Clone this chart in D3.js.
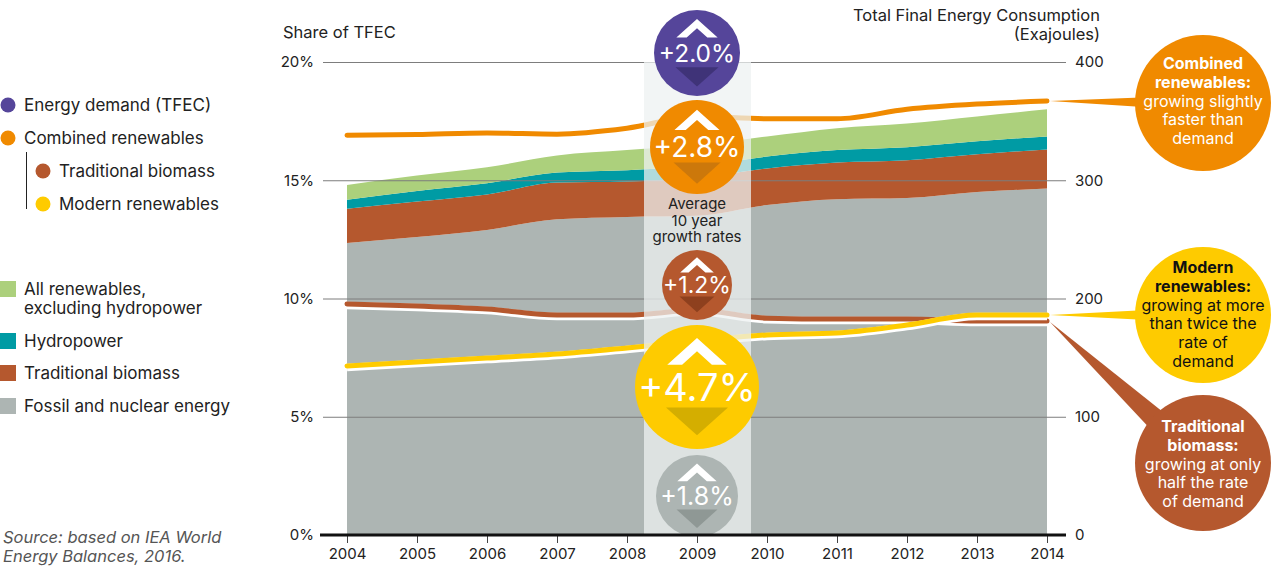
<!DOCTYPE html>
<html>
<head>
<meta charset="utf-8">
<script src="https://cdn.jsdelivr.net/npm/d3@7"></script>
<style>
body { margin: 0; background: #fff; }
text { font-family: Inter, Roboto, "Noto Sans", sans-serif; fill: #222; }
</style>
</head>
<body>
<div id="main"></div>
<script>

//=============== DATA ===================
var years = [2004, 2005, 2006, 2007, 2008, 2009, 2010, 2011, 2012, 2013, 2014];

// stacked areas, exajoules (right axis)
var fossilEJ  = [247, 252, 258, 267, 269, 270, 279, 284, 285, 290, 293];
var biomassEJ = [29, 30, 30, 31, 30, 32, 31, 31, 32, 32, 33];
var hydroEJ   = [7.5, 9, 9.5, 8.5, 9.5, 10, 10, 10.5, 11, 11, 11];
var otherEJ   = [12.5, 13, 13.5, 14.5, 17, 17.5, 17, 18.5, 20, 21, 23];

// shares of TFEC, % (left axis)
var combinedShare = [16.9, 16.93, 17.0, 16.95, 17.2, 17.7, 17.6, 17.6, 18.0, 18.22, 18.35];
var biomassShare  = [9.77, 9.68, 9.56, 9.3, 9.3, 9.5, 9.17, 9.13, 9.13, 9.05, 9.05];
var modernShare   = [7.15, 7.32, 7.48, 7.65, 7.91, 8.2, 8.46, 8.54, 8.88, 9.3, 9.3];

// average 10 year growth rates
var growthNames = ["demand", "combined", "biomass", "modern", "fossil"];
var growthRates = [2.0, 2.8, 1.2, 4.7, 1.8];

var shareTicks = [0, 5, 10, 15, 20];
var ejTicks = [0, 100, 200, 300, 400];

var dotLegend = ["Energy demand (TFEC)", "Combined renewables", "Traditional biomass", "Modern renewables"];
var boxLegend = [["All renewables,", "excluding hydropower"], ["Hydropower"], ["Traditional biomass"], ["Fossil and nuclear energy"]];

var notes = [
  {bold: ["Combined", "renewables:"], rest: ["growing slightly", "faster than", "demand"]},
  {bold: ["Modern", "renewables:"], rest: ["growing at more", "than twice the", "rate of", "demand"]},
  {bold: ["Traditional", "biomass:"], rest: ["growing at only", "half the rate", "of demand"]}
];

//=============== STYLE / LAYOUT ===================
var col = {
  purple: "#55459a", orange: "#f08a00", brown: "#b5582e", yellow: "#fecb00",
  gray: "#adb5b3", green: "#acd07c", teal: "#009ba4"
};
var dark = {
  demand: "#3f3378", combined: "#cc780b", biomass: "#8e401e", modern: "#d4ae00", fossil: "#8f9895"
};
var fill = {
  demand: col.purple, combined: col.orange, biomass: col.brown, modern: col.yellow, fossil: col.gray
};
var bubble = {   // cy, r, font size
  demand:   [53, 43, 24.5],
  combined: [147, 47, 28],
  biomass:  [285, 35, 23],
  modern:   [387, 62, 38],
  fossil:   [496, 41, 25]
};

var W = 1283, H = 566;
var x = d3.scaleLinear().domain([2004, 2014]).range([347, 1047]);
var yShare = d3.scaleLinear().domain([0, 20]).range([535, 62]);
var yEJ = d3.scaleLinear().domain([0, 400]).range([535, 62]);

var svg = d3.select("#main").append("svg")
    .attr("width", W)
    .attr("height", H);

//=============== AREAS ===================
var rows = years.map(function(y, i){
  return {year: y, fossil: fossilEJ[i], biomass: biomassEJ[i], hydro: hydroEJ[i], other: otherEJ[i]};
});
var stack = d3.stack().keys(["fossil", "biomass", "hydro", "other"]);
var areaColors = {fossil: col.gray, biomass: col.brown, hydro: col.teal, other: col.green};

var area = d3.area()
    .x(function(d){ return x(d.data.year); })
    .y0(function(d){ return yEJ(d[0]); })
    .y1(function(d){ return yEJ(d[1]); })
    .curve(d3.curveMonotoneX);

svg.append("g").selectAll("path")
    .data(stack(rows))
    .enter().append("path")
    .attr("d", area)
    .attr("fill", function(d){ return areaColors[d.key]; });

//=============== GRID / AXES ===================
var gx0 = 323, gx1 = 1066;
var leftAxis = svg.append("g")
    .attr("transform", "translate(" + gx0 + ",0)")
    .call(d3.axisLeft(yShare).tickValues(shareTicks).tickSize(-(gx1 - gx0)).tickPadding(9)
      .tickFormat(function(d){ return d + "%"; }));
leftAxis.select(".domain").remove();
leftAxis.selectAll("line").attr("stroke", "#7d7d7d");
leftAxis.selectAll("text").attr("font-size", 15).style("font-family", "Inter").attr("fill", "#222");

var rightAxis = svg.append("g")
    .attr("transform", "translate(" + gx1 + ",0)")
    .call(d3.axisRight(yEJ).tickValues(ejTicks).tickSize(0).tickPadding(9));
rightAxis.select(".domain").remove();
rightAxis.selectAll("text").attr("font-size", 15).style("font-family", "Inter").attr("fill", "#222");

//=============== LINES ===================
function lineOf(vals){
  return d3.line()
    .x(function(d, i){ return x(years[i]); })
    .y(function(d){ return yShare(d); })
    .curve(d3.curveMonotoneX)(vals);
}

svg.append("path").attr("d", lineOf(combinedShare))
    .attr("fill", "none").attr("stroke", col.orange).attr("stroke-width", 5).attr("stroke-linecap", "round");

[[biomassShare, col.brown], [modernShare, col.yellow]].forEach(function(s){
  svg.append("path").attr("d", lineOf(s[0]))
    .attr("transform", "translate(0,1.5)")
    .attr("fill", "none").attr("stroke", "#fff").attr("stroke-width", 7.5);
  svg.append("path").attr("d", lineOf(s[0]))
    .attr("fill", "none").attr("stroke", s[1]).attr("stroke-width", 5).attr("stroke-linecap", "round");
});

//=============== HIGHLIGHT BAND ===================
var bx = x(2009);
svg.append("rect")
    .attr("x", bx - 53).attr("y", yShare(20))
    .attr("width", 107).attr("height", yShare(0) - yShare(20))
    .attr("fill", "#eef1f2").attr("opacity", 0.74);

//=============== GROWTH BUBBLES ===================
var gb = svg.append("g").selectAll("g")
    .data(growthNames)
    .enter().append("g")
    .attr("transform", function(d){ return "translate(" + bx + "," + bubble[d][0] + ")"; });

gb.append("circle")
    .attr("r", function(d){ return bubble[d][1]; })
    .attr("fill", function(d){ return fill[d]; });

gb.append("path")
    .attr("fill", "#fff")
    .attr("d", function(d){
      var r = bubble[d][1], a = -0.79 * r, b = -0.36 * r, w = 0.48 * r, t = 0.24 * r;
      var k = (b - a) / w;
      var ia = b - k * (w - t);
      return "M" + (-w) + "," + b + "L0," + a + "L" + w + "," + b + "L" + (w - t) + "," + b +
        "L0," + ia + "L" + (-w + t) + "," + b + "Z";
    });

gb.append("path")
    .attr("fill", function(d){ return dark[d]; })
    .attr("d", function(d){
      var r = bubble[d][1], top = 0.33 * r, ap = 0.78 * r, w = 0.5 * r;
      return "M" + (-w) + "," + top + "L" + w + "," + top + "L0," + ap + "Z";
    });

gb.append("text")
    .attr("text-anchor", "middle")
    .attr("dy", "0.36em")
    .attr("font-size", function(d){ return bubble[d][2]; })
    .style("fill", "#fff")
    .text(function(d, i){ return "+" + d3.format(".1f")(growthRates[i]) + "%"; });

// keep the bottom axis clear of the lowest bubble
svg.append("rect").attr("x", bx - 60).attr("y", 536).attr("width", 120).attr("height", 30).attr("fill", "#fff");

svg.append("text")
    .attr("text-anchor", "middle")
    .attr("font-size", 15)
    .selectAll("tspan")
    .data(["Average", "10 year", "growth rates"])
    .enter().append("tspan")
    .attr("x", bx)
    .attr("y", function(d, i){ return 209 + i * 16.5; })
    .text(function(d){ return d; });

//=============== BOTTOM AXIS ===================
var bottom = svg.append("g")
    .attr("transform", "translate(0,535)")
    .call(d3.axisBottom(x).tickValues(years).tickSize(8).tickPadding(5).tickFormat(d3.format("d")));
bottom.select(".domain").remove();
bottom.selectAll("line").attr("stroke", "#444");
bottom.selectAll("text").attr("font-size", 15).style("font-family", "Inter").attr("fill", "#222");
svg.append("line")
    .attr("x1", 320).attr("x2", gx1)
    .attr("y1", 535).attr("y2", 535)
    .attr("stroke", "#111").attr("stroke-width", 3);

//=============== ANNOTATIONS ===================
var noteLayout = [
  {cx: 1203, cy: 103, r: 68, color: col.orange, text: "#fff", y0: 69, src: combinedShare},
  {cx: 1203, cy: 315, r: 68, color: col.yellow, text: "#111", y0: 273, src: modernShare},
  {cx: 1203, cy: 463, r: 68, color: col.brown, text: "#fff", y0: 432, src: biomassShare}
];

noteLayout.forEach(function(n, i){
  var tipX = x(2014) + 3, tipY = yShare(n.src[n.src.length - 1]);
  if (i === 2) tipY += 1;
  var dx = n.cx - tipX, dy = n.cy - tipY, len = Math.sqrt(dx * dx + dy * dy);
  var ux = dx / len, uy = dy / len;
  var reach = len - n.r + 12;
  var half = i === 2 ? 11 : 5;
  var bxp = tipX + ux * reach, byp = tipY + uy * reach;
  svg.append("path")
    .attr("fill", n.color)
    .attr("d", "M" + tipX + "," + tipY +
      "L" + (bxp - uy * half) + "," + (byp + ux * half) +
      "L" + (bxp + uy * half) + "," + (byp - ux * half) + "Z");
  svg.append("circle").attr("cx", n.cx).attr("cy", n.cy).attr("r", n.r).attr("fill", n.color);
  var t = svg.append("text").attr("text-anchor", "middle").attr("font-size", 16).style("fill", n.text);
  var lines = notes[i].bold.map(function(s){ return [s, true]; })
    .concat(notes[i].rest.map(function(s){ return [s, false]; }));
  t.selectAll("tspan").data(lines).enter().append("tspan")
    .attr("x", n.cx)
    .attr("y", function(d, j){ return n.y0 + j * 18.8; })
    .attr("font-weight", function(d){ return d[1] ? 700 : 400; })
    .text(function(d){ return d[0]; });
});

//=============== LEGEND ===================
var dotPos = [[8, 105, 24], [8, 138, 24], [43, 171, 59], [43, 204, 59]];
var dotCols = [col.purple, col.orange, col.brown, col.yellow];
svg.append("line").attr("x1", 26.5).attr("x2", 26.5).attr("y1", 152).attr("y2", 209)
    .attr("stroke", "#222").attr("stroke-width", 1);
dotLegend.forEach(function(s, i){
  svg.append("circle").attr("cx", dotPos[i][0]).attr("cy", dotPos[i][1]).attr("r", 7.5).attr("fill", dotCols[i]);
  svg.append("text").attr("x", dotPos[i][2]).attr("y", dotPos[i][1]).attr("dy", "0.35em")
    .attr("font-size", 17).text(s);
});

var boxY = [281, 333, 365, 398];
var boxCols = [col.green, col.teal, col.brown, col.gray];
boxLegend.forEach(function(s, i){
  svg.append("rect").attr("x", 0).attr("y", boxY[i]).attr("width", 16).attr("height", 16).attr("fill", boxCols[i]);
  var t = svg.append("text").attr("font-size", 17);
  t.selectAll("tspan").data(s).enter().append("tspan")
    .attr("x", 24).attr("y", function(d, j){ return boxY[i] + 8 + j * 19.5; })
    .attr("dy", "0.35em").text(function(d){ return d; });
});

//=============== TITLES ===================
svg.append("text").attr("x", 283).attr("y", 38).attr("font-size", 16.5).text("Share of TFEC");
svg.append("text").attr("x", 1100).attr("y", 21).attr("text-anchor", "end").attr("font-size", 16.5)
    .text("Total Final Energy Consumption");
svg.append("text").attr("x", 1100).attr("y", 40).attr("text-anchor", "end").attr("font-size", 16.5)
    .text("(Exajoules)");

var src = svg.append("text").attr("font-size", 16.5).attr("font-style", "italic").style("fill", "#555");
src.append("tspan").attr("x", 3).attr("y", 543).text("Source: based on IEA World");
src.append("tspan").attr("x", 3).attr("y", 562).text("Energy Balances, 2016.");

</script>
</body>
</html>
